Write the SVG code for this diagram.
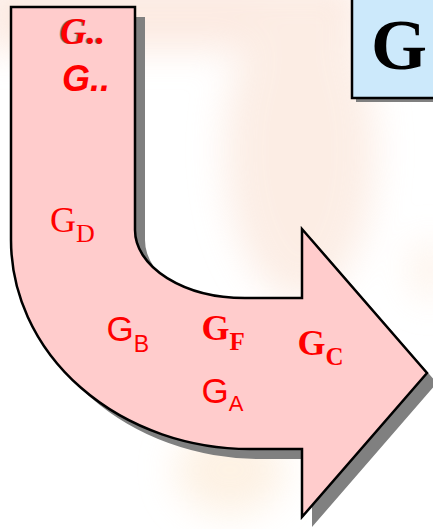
<svg xmlns="http://www.w3.org/2000/svg" width="433" height="529" viewBox="0 0 433 529">
<defs>
<filter id="blur" x="-50%" y="-50%" width="200%" height="200%"><feGaussianBlur stdDeviation="18"/></filter>
<path id="arrowShape" d="M11,7 H135 V230 A110,68 0 0 0 245,298 H302 V229 L427,373 L302,517 V449 H250 A239,209 0 0 1 11,240 Z"/>
</defs>
<style>
.serif{font-family:"Liberation Serif","Times New Roman",serif}
.sans{font-family:"Liberation Sans",Arial,sans-serif}
.lbl{fill:#ff0000}
.shadow{fill:#808080}
</style>
<rect width="433" height="529" fill="#ffffff"/>
<g id="background" filter="url(#blur)" opacity="0.7">
<rect x="-20" y="-20" width="380" height="70" fill="#fbe2d6"/>
<ellipse cx="300" cy="150" rx="75" ry="150" fill="#fbe6da"/>
<ellipse cx="230" cy="470" rx="55" ry="45" fill="#fdecd9"/>
<ellipse cx="430" cy="270" rx="20" ry="30" fill="#fdeee2"/>
</g>
<g id="arrow">
<use href="#arrowShape" transform="translate(10,10)" class="shadow"/>
<use href="#arrowShape" fill="#ffcccc" stroke="#000000" stroke-width="2.5" stroke-linejoin="miter"/>
</g>
<g id="title-box">
<rect x="356" y="-4" width="90" height="106" fill="#808080"/>
<rect x="352" y="-8" width="90" height="106" fill="#cce9fb" stroke="#000000" stroke-width="2.5"/>
<text x="371" y="69" class="serif" font-size="72" font-weight="bold" fill="#000000">G</text>
</g>
<g id="label-g1">
<text x="58.5" y="43.5" class="serif shadow" font-size="37" font-weight="bold" font-style="italic">G..</text>
<text x="60" y="44" class="serif lbl" font-size="37" font-weight="bold" font-style="italic">G..</text>
</g>
<g id="label-g2">
<text x="62" y="91" class="sans lbl" font-size="36" font-weight="bold" font-style="italic">G..</text>
</g>
<g id="label-gd">
<text x="50" y="232" class="serif lbl" font-size="36">G<tspan dy="10" font-size="26">D</tspan></text>
</g>
<g id="label-gb">
<text x="106.5" y="341" class="sans lbl" font-size="35">G<tspan dy="11" font-size="23">B</tspan></text>
</g>
<g id="label-gf">
<text x="201.5" y="340" class="serif lbl" font-size="36" font-weight="bold">G<tspan dy="10" font-size="25">F</tspan></text>
</g>
<g id="label-ga">
<text x="201.5" y="403" class="sans lbl" font-size="35">G<tspan dy="8" font-size="22">A</tspan></text>
</g>
<g id="label-gc">
<text x="297.5" y="355" class="serif lbl" font-size="36" font-weight="bold">G<tspan dy="10" font-size="25">C</tspan></text>
</g>
<g id="connectors"/>
</svg>
